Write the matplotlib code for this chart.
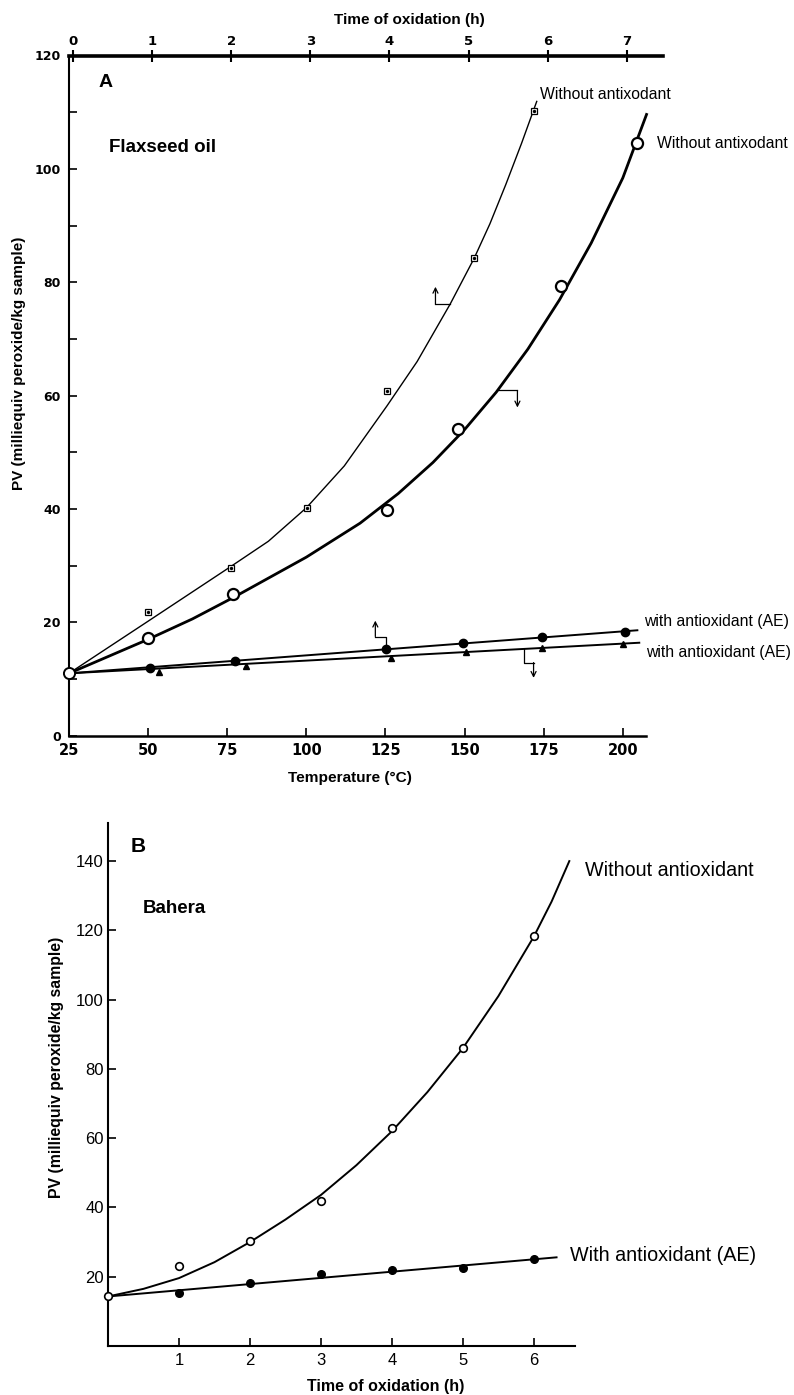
import matplotlib
matplotlib.use("Agg")
import matplotlib.pyplot as plt

W, H = 794, 1395

# ---- panel A (flaxseed oil), x in temperature units ----
temp_ticks = [25, 50, 75, 100, 125, 150, 175, 200]
time_ticks_a = [0, 1, 2, 3, 4, 5, 6, 7]
pv_ticks_a = [0, 20, 40, 60, 80, 100, 120]
pv_minor_a = [10, 30, 50, 70, 90, 110]

start_temp = [25]
start_pv = [11]

# without antioxidant (time axis), squares
sq_temp = [50.1, 76.1, 100.3, 125.5, 153.1, 171.8]
sq_pv = [21.8, 29.6, 40.2, 60.8, 84.2, 110.2]
sq_curve_temp = [25, 50, 76, 88, 100, 112, 125.5, 135, 145.5, 153, 158, 163, 168, 172.8]
sq_curve_pv = [11, 20.2, 29.8, 34.3, 40.2, 47.6, 58.2, 66, 76.2, 84.2, 90.3, 97.2,
               104.5, 111.9]

# without antioxidant (temperature axis), open circles
oc_temp = [50.1, 76.8, 125.5, 147.8, 180.5, 204.4]
oc_pv = [17.3, 25.0, 39.8, 54.1, 79.4, 104.5]
oc_curve_temp = [25, 50, 64, 77, 100, 117, 129, 140, 150, 160, 170, 180, 190, 200, 207.5]
oc_curve_pv = [11, 17, 20.6, 24.4, 31.5, 37.5, 42.7, 48.2, 54.0, 60.6, 68.2, 76.9,
               86.9, 98.4, 109.6]

# with antioxidant (AE), filled circles (time axis) and triangles (temperature axis)
fc_temp = [50.6, 77.5, 125.3, 149.5, 174.4, 200.7]
fc_pv = [11.9, 13.1, 15.3, 16.4, 17.4, 18.3]
fc_line_temp = [25, 204.6]
fc_line_pv = [11, 18.6]
tri_temp = [53.5, 80.8, 126.6, 150.5, 174.6, 200.2]
tri_pv = [11.3, 12.3, 13.7, 14.7, 15.5, 16.1]
tri_line_temp = [25, 205.2]
tri_line_pv = [11, 16.4]

# little axis pointers next to curves
pointers_a = [
    ([145.5, 140.8, 140.8], [76.2, 76.2, 79.2]),
    ([160.7, 166.7, 166.7], [60.9, 60.9, 57.9]),
    ([125.3, 125.3, 121.8, 121.8], [15.7, 17.5, 17.5, 20.3]),
    ([168.8, 168.8, 171.8, 171.8], [15.3, 12.9, 12.9, 10.2]),
]

# ---- panel B (bahera), x in hours ----
time_ticks_b = [1, 2, 3, 4, 5, 6]
pv_ticks_b = [20, 40, 60, 80, 100, 120, 140]

b_open_time = [0, 1, 2, 3, 4, 5, 6]
b_open_pv = [14.3, 23.0, 30.4, 41.8, 63.0, 86.0, 118.4]
b_curve_time = [0, 0.5, 1, 1.5, 2, 2.5, 3, 3.5, 4, 4.5, 5, 5.5, 6, 6.25, 6.5]
b_curve_pv = [14.3, 16.5, 19.6, 24.2, 30.0, 36.5, 43.6, 52.2, 62, 73.3, 86, 101,
              118.2, 128.3, 140]
b_ae_time = [1, 2, 3, 4, 5, 6]
b_ae_pv = [15.3, 18.2, 20.8, 22.0, 22.5, 25.1]
b_ae_line_time = [0, 6.32]
b_ae_line_pv = [14.3, 25.6]

label_font = "Liberation Sans"
tick_font_a = "DejaVu Sans"


def fx(px):
    return px / W


def fy(py):
    return 1 - py / H


fig = plt.figure(figsize=(W / 100, H / 100), dpi=100)

# ================= panel A =================
ax = fig.add_axes([fx(69), fy(735.7), 594 / W, 680.2 / H])
ax.set_xlim(25, 212.7)
ax.set_ylim(0, 120)
for s in ["top", "right"]:
    ax.spines[s].set_visible(False)
ax.spines["left"].set_linewidth(1.5)
ax.spines["bottom"].set_linewidth(1.8)
ax.spines["bottom"].set_bounds(25, 207.3)

ax.set_xticks(temp_ticks)
ax.set_xticklabels([str(t) for t in temp_ticks], fontfamily=tick_font_a,
                   fontweight="bold", fontsize=10.5)
ax.set_yticks(pv_ticks_a)
ax.set_yticks(pv_minor_a, minor=True)
ax.set_yticklabels([str(v) for v in pv_ticks_a], fontfamily=tick_font_a,
                   fontweight="bold", fontsize=9)
ax.tick_params(axis="both", which="both", direction="in", length=6, width=1.2)
ax.tick_params(axis="x", pad=5)
ax.tick_params(axis="y", pad=6)

ax2 = ax.twiny()
ax2.set_xlim((69 - 73) / 79.1, (663 - 73) / 79.1)
for s in ["bottom", "left", "right"]:
    ax2.spines[s].set_visible(False)
ax2.spines["top"].set_linewidth(2.6)
ax2.set_xticks(time_ticks_a)
ax2.set_xticklabels([str(t) for t in time_ticks_a], fontfamily=tick_font_a,
                    fontweight="bold", fontsize=9.5)
ax2.tick_params(axis="x", direction="inout", length=9, width=1.5, pad=1)

# curves
ax.plot(sq_curve_temp, sq_curve_pv, color="black", lw=1.0, zorder=2)
ax.plot(oc_curve_temp, oc_curve_pv, color="black", lw=2.0, zorder=2)
ax.plot(fc_line_temp, fc_line_pv, color="black", lw=1.4, zorder=2)
ax.plot(tri_line_temp, tri_line_pv, color="black", lw=1.4, zorder=2)

# markers
ax.plot(sq_temp, sq_pv, ls="none", marker="s", ms=5, mfc="white", mec="black",
        mew=0.9, zorder=3)
ax.plot(sq_temp, sq_pv, ls="none", marker="o", ms=1.4, color="black", zorder=4)
ax.plot(oc_temp, oc_pv, ls="none", marker="o", ms=8, mfc="white", mec="black",
        mew=1.6, zorder=3)
ax.plot(fc_temp, fc_pv, ls="none", marker="o", ms=6, color="black", zorder=3)
ax.plot(tri_temp, tri_pv, ls="none", marker="^", ms=5, color="black", zorder=3)
ax.plot(start_temp, start_pv, ls="none", marker="o", ms=8, mfc="white",
        mec="black", mew=1.4, zorder=5, clip_on=False)

for px_, py_ in pointers_a:
    ax.plot(px_[:-1], py_[:-1], color="black", lw=0.9)
    ax.annotate("", xy=(px_[-1], py_[-1]), xytext=(px_[-2], py_[-2]),
                arrowprops=dict(arrowstyle="->", lw=0.9, color="black",
                                shrinkA=0, shrinkB=0, mutation_scale=9))

ax.text(36.7, 115.2, "A", fontsize=14, fontweight="bold", family=label_font,
        ha="center", va="center")
ax.text(37.6, 103.7, "Flaxseed oil", fontsize=13.5, fontweight="bold",
        family=label_font, ha="left", va="center")
ax.text(173.9, 113.1, "Without antixodant", fontsize=11.3, family=label_font,
        ha="left", va="center")
ax.text(210.7, 104.5, "Without antixodant", fontsize=11.3, family=label_font,
        ha="left", va="center")
ax.text(206.7, 20.2, "with antioxidant (AE)", fontsize=11.3, family=label_font,
        ha="left", va="center")
ax.text(207.3, 14.7, "with antioxidant (AE)", fontsize=11.3, family=label_font,
        ha="left", va="center")

fig.text(fx(409), fy(20), "Time of oxidation (h)", fontsize=11, fontweight="bold",
         family=label_font, ha="center", va="center")
fig.text(fx(350), fy(778), "Temperature (°C)", fontsize=11.1, fontweight="bold",
         family=label_font, ha="center", va="center")
fig.text(fx(19), fy(363), "PV (milliequiv peroxide/kg sample)", fontsize=11,
         fontweight="bold", family=label_font, rotation=90, ha="center",
         va="center")

# ================= panel B =================
bx = fig.add_axes([fx(108), fy(1346), 467 / W, 523 / H])
bx.set_xlim(0, 6.58)
bx.set_ylim(0, 151)
for s in ["top", "right"]:
    bx.spines[s].set_visible(False)
bx.spines["left"].set_linewidth(1.5)
bx.spines["bottom"].set_linewidth(1.5)
bx.set_xticks(time_ticks_b)
bx.set_xticklabels([str(t) for t in time_ticks_b], fontfamily=label_font,
                   fontsize=12)
bx.set_yticks(pv_ticks_b)
bx.set_yticklabels([str(v) for v in pv_ticks_b], fontfamily=label_font,
                   fontsize=12)
bx.tick_params(axis="both", direction="in", length=6, width=1.2)
bx.tick_params(axis="x", pad=5)
bx.tick_params(axis="y", pad=3)

bx.plot(b_curve_time, b_curve_pv, color="black", lw=1.4, zorder=2)
bx.plot(b_ae_line_time, b_ae_line_pv, color="black", lw=1.4, zorder=2)
bx.plot(b_ae_time, b_ae_pv, ls="none", marker="o", ms=5.5, color="black", zorder=3)
bx.plot(b_open_time, b_open_pv, ls="none", marker="o", ms=5.5, mfc="white",
        mec="black", mew=1.2, zorder=4, clip_on=False)

bx.text(0.43, 144.3, "B", fontsize=15, fontweight="bold", family=label_font,
        ha="center", va="center")
bx.text(0.49, 126.2, "Bahera", fontsize=13.5, fontweight="bold",
        family=label_font, ha="left", va="center")
bx.text(6.72, 137.3, "Without antioxidant", fontsize=14.2, family=label_font,
        ha="left", va="center")
bx.text(6.51, 26, "With antioxidant (AE)", fontsize=14.2, family=label_font,
        ha="left", va="center")

fig.text(fx(385.5), fy(1387), "Time of oxidation (h)", fontsize=11.5,
         fontweight="bold", family=label_font, ha="center", va="center")
fig.text(fx(57), fy(1067), "PV (milliequiv peroxide/kg sample)", fontsize=11.4,
         fontweight="bold", family=label_font, rotation=90, ha="center",
         va="center")

fig.savefig("out.png", dpi=100, facecolor="white")
